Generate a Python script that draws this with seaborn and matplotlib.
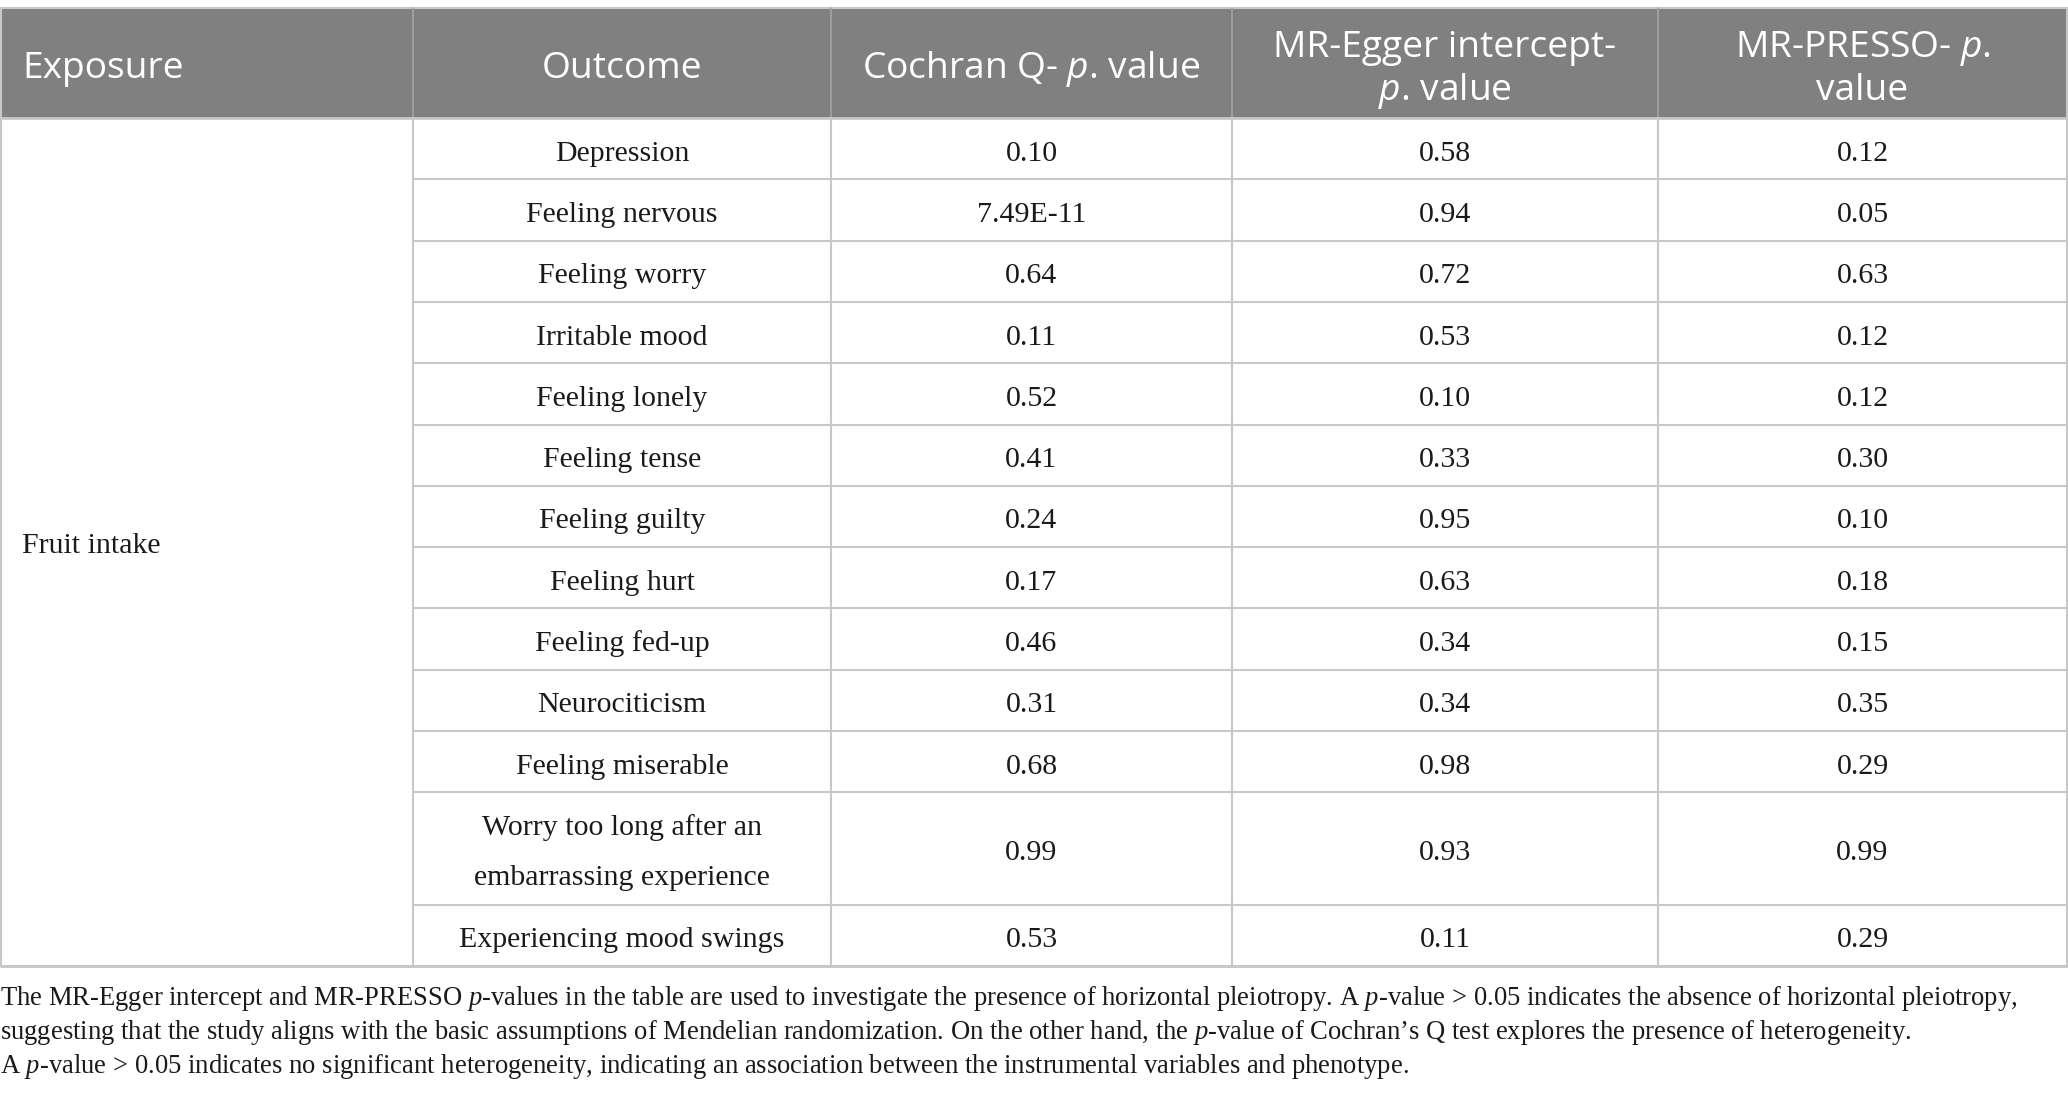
import seaborn as sns
import matplotlib.pyplot as plt
import matplotlib.font_manager as fm
import numpy as np

# table content
exposure = "Fruit intake"
outcomes = [
    "Depression", "Feeling nervous", "Feeling worry", "Irritable mood",
    "Feeling lonely", "Feeling tense", "Feeling guilty", "Feeling hurt",
    "Feeling fed-up", "Neurociticism", "Feeling miserable",
    "Worry too long after an\nembarrassing experience",
    "Experiencing mood swings",
]
cochran_q = ["0.10", "7.49E-11", "0.64", "0.11", "0.52", "0.41", "0.24",
             "0.17", "0.46", "0.31", "0.68", "0.99", "0.53"]
egger_p = ["0.58", "0.94", "0.72", "0.53", "0.10", "0.33", "0.95",
           "0.63", "0.34", "0.34", "0.98", "0.93", "0.11"]
presso_p = ["0.12", "0.05", "0.63", "0.12", "0.12", "0.30", "0.10",
            "0.18", "0.15", "0.35", "0.29", "0.99", "0.29"]
headers = ["Exposure", "Outcome", r"Cochran Q- $\mathtt{p}$. value",
           "MR-Egger intercept-\n" + r"$\mathtt{p}$. value",
           r"MR-PRESSO- $\mathtt{p}$." + "\nvalue"]
footnote = [
    r"The MR-Egger intercept and MR-PRESSO $p$-values in the table are used to investigate the presence of horizontal pleiotropy. A $p$-value > 0.05 indicates the absence of horizontal pleiotropy,",
    r"suggesting that the study aligns with the basic assumptions of Mendelian randomization. On the other hand, the $p$-value of Cochran’s Q test explores the presence of heterogeneity.",
    r"A $p$-value > 0.05 indicates no significant heterogeneity, indicating an association between the instrumental variables and phenotype.",
]

sns.set_theme(style="white")

names = {f.name for f in fm.fontManager.ttflist}
sans = "Open Sans" if "Open Sans" in names else "DejaVu Sans"
serif = "Liberation Serif" if "Liberation Serif" in names else "DejaVu Serif"
plt.rcParams["font.family"] = [serif, "DejaVu Serif"]
plt.rcParams["mathtext.fontset"] = "custom"
plt.rcParams["mathtext.rm"] = serif
plt.rcParams["mathtext.it"] = serif + ":italic"
plt.rcParams["mathtext.tt"] = sans + ":italic"

W, H = 2068, 1098
fig = plt.figure(figsize=(W / 100, H / 100), dpi=100)
ax = fig.add_axes([0, 0, 1, 1])
ax.set_xlim(0, W)
ax.set_ylim(H, 0)
ax.axis("off")

head_bg = "#808080"
grid = "#c8c8c8"
ink = "#1a1a1a"

col_edges = [1, 413, 831, 1232, 1658, 2067]
head_top, head_bot = 8, 118
row_h, line_extra = 61.3, 51

# row edges from the number of text lines in each outcome
heights = [row_h + line_extra * (o.count("\n")) for o in outcomes]
row_edges = head_bot + np.concatenate([[0], np.cumsum(heights)])
table_bot = row_edges[-1]

# header band
ax.fill_between([col_edges[0], col_edges[-1]], head_top, head_bot,
                color=head_bg, lw=0)
ax.plot([col_edges[0], col_edges[-1]], [head_top, head_top], color=grid, lw=1.5)
for x in col_edges[1:-1]:
    ax.plot([x, x], [head_top, head_bot], color="#a4a4a4", lw=1.2)

for j, h in enumerate(headers):
    lines = h.split("\n")
    if j == 0:
        xs, ha = 22, "left"
    else:
        xs, ha = (col_edges[j] + col_edges[j + 1]) / 2, "center"
    if len(lines) == 1:
        bases = [78]
    else:
        bases = [57, 100]
    for ln, b in zip(lines, bases):
        ax.text(xs, b, ln, ha=ha, va="baseline", color="white",
                fontsize=26.7, family=sans)

# body grid
for x in col_edges[1:-1]:
    ax.plot([x, x], [head_bot, table_bot], color=grid, lw=1.5)
for x in [col_edges[0], col_edges[-1]]:
    ax.plot([x, x], [head_top, table_bot], color=grid, lw=1.5)
ax.plot([col_edges[0], col_edges[-1]], [head_bot, head_bot], color=grid, lw=2)
for y in row_edges[1:-1]:
    ax.plot([col_edges[1], col_edges[-1]], [y, y], color=grid, lw=1.5)
ax.plot([col_edges[0], col_edges[-1]], [table_bot, table_bot], color=grid, lw=2.2)

# exposure cell spanning all rows
ax.text(22, (head_bot + table_bot) / 2 + 11, exposure, ha="left",
        va="baseline", color=ink, fontsize=21.5)

for i in range(len(outcomes)):
    cy = (row_edges[i] + row_edges[i + 1]) / 2
    lines = outcomes[i].split("\n")
    offs = (np.arange(len(lines)) - (len(lines) - 1) / 2) * 50
    for ln, o in zip(lines, offs):
        ax.text((col_edges[1] + col_edges[2]) / 2, cy + o + 12, ln,
                ha="center", va="baseline", color=ink, fontsize=21.5)
    for j, vals in zip([2, 3, 4], [cochran_q, egger_p, presso_p]):
        ax.text((col_edges[j] + col_edges[j + 1]) / 2, cy + 12, vals[i],
                ha="center", va="baseline", color=ink, fontsize=21.5)

# footnote
for k, ln in enumerate(footnote):
    ax.text(0, 1005 + 34 * k, ln, ha="left", va="baseline", color=ink,
            fontsize=19.2)

fig.savefig("out.png", dpi=100)
